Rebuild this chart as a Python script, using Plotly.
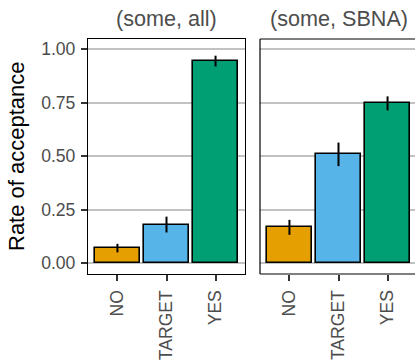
import plotly.graph_objects as go

categories = ["NO", "TARGET", "YES"]
panels = ["(some, all)", "(some, SBNA)"]
rate_all = [0.07, 0.18, 0.944]
err_all = [0.02, 0.037, 0.025]
rate_sbna = [0.167, 0.508, 0.746]
err_sbna = [0.035, 0.055, 0.033]
colors = ["#E69F00", "#56B4E9", "#009E73"]
yticks = [0, 0.25, 0.5, 0.75, 1.0]
yticktext = ["0.00", "0.25", "0.50", "0.75", "1.00"]

W, H = 415, 361
FONT = "Liberation Sans, Arial, Helvetica, sans-serif"


def px(x):
    return x / W


def py(y):
    return 1 - y / H


fig = go.Figure()
for i, (vals, errs) in enumerate([(rate_all, err_all), (rate_sbna, err_sbna)]):
    fig.add_trace(go.Bar(
        x=categories, y=vals, width=0.9,
        marker=dict(color=colors, line=dict(color="black", width=1.6)),
        error_y=dict(type="data", array=errs, color="black", thickness=2, width=0),
        xaxis="x" if i == 0 else "x2", yaxis="y" if i == 0 else "y2",
        showlegend=False, hoverinfo="skip",
    ))

p1 = (88, 245)
p2 = (260, 418)
ytop, ybot = 39, 274
ydom = [py(ybot), py(ytop)]
yrange = [-0.051, 1.047]
unit = (p1[1] - p1[0]) / 3.2

xcommon = dict(type="category", showgrid=False, zeroline=False, ticks="outside",
               ticklen=6, tickwidth=1.5, tickcolor="#333333", tickangle=-90,
               tickfont=dict(family=FONT, size=17.6, color="#4d4d4d"),
               ticklabelstandoff=2, fixedrange=True)
fig.update_layout(
    width=W, height=H, margin=dict(l=0, r=0, t=0, b=0),
    paper_bgcolor="white", plot_bgcolor="white", bargap=0,
    xaxis=dict(domain=[px(p1[0]), px(p1[1])], range=[-0.6, 2.6],
               showline=True, mirror=True, linecolor="black", linewidth=1.2, **xcommon),
    xaxis2=dict(domain=[px(p2[0]), 1.0],
                range=[-0.6, -0.6 + (W - p2[0]) / unit],
                showline=False, **xcommon),
    yaxis=dict(domain=ydom, range=yrange, tickvals=yticks, ticktext=yticktext,
               showgrid=True, gridcolor="#c2c2c2", gridwidth=1.8, zeroline=False,
               ticks="outside", ticklen=6, tickwidth=1.5, tickcolor="#333333",
               tickfont=dict(family=FONT, size=17.6, color="#4d4d4d"),
               showline=True, mirror=True, linecolor="black", linewidth=1.2,
               ticklabelstandoff=2, anchor="x", fixedrange=True),
    yaxis2=dict(domain=ydom, range=yrange, tickvals=yticks, showticklabels=False,
                showgrid=True, gridcolor="#c2c2c2", gridwidth=1.8, zeroline=False,
                ticks="", showline=False, anchor="x2", fixedrange=True),
)

# panel 2 border (its right side falls outside the image)
for x0, y0, x1, y1 in [(p2[0], ytop, W, ytop), (p2[0], ybot, W, ybot),
                       (p2[0], ytop, p2[0], ybot)]:
    fig.add_shape(type="line", xref="paper", yref="paper",
                  x0=px(x0), x1=px(x1), y0=py(y0), y1=py(y1),
                  line=dict(color="black", width=1.2), layer="above")

# strip labels
for label, (a, b) in zip(panels, [p1, p2]):
    fig.add_annotation(text=label, xref="paper", yref="paper",
                       x=px((a + b) / 2), y=py(18.5), showarrow=False,
                       xanchor="center", yanchor="middle",
                       font=dict(family=FONT, size=21.6, color="#4d4d4d"))

fig.add_annotation(text="Rate of acceptance", xref="paper", yref="paper",
                   x=px(16.5), y=py((ytop + ybot) / 2), showarrow=False,
                   textangle=-90, xanchor="center", yanchor="middle",
                   font=dict(family=FONT, size=22, color="black"))

fig.write_html(
    "out.html",
    config={"displayModeBar": False},
    post_script="document.body.style.margin='0';document.body.style.padding='0';",
)
